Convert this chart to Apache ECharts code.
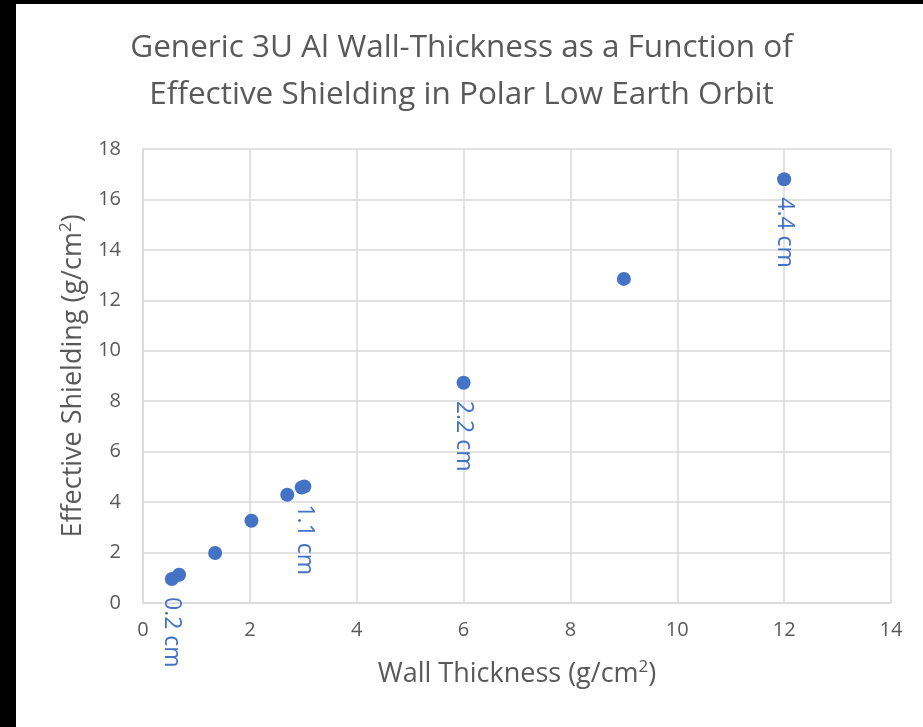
<!DOCTYPE html>
<html><head><meta charset="utf-8">
<script src="https://cdn.jsdelivr.net/npm/echarts@6/dist/echarts.min.js"></script>
<style>html,body{margin:0;padding:0;background:#fff}#c{width:923px;height:727px}</style>
</head><body><div id="c"></div>
<script>
var wallThickness = [0.54, 0.675, 1.35, 2.03, 2.7, 2.97, 3.02, 6.0, 9.0, 12.0];
var effectiveShielding = [0.95, 1.12, 1.98, 3.26, 4.29, 4.58, 4.62, 8.73, 12.85, 16.8];
var pointLabels = ['0.2 cm', '', '', '', '', '', '1.1 cm', '2.2 cm', '', '4.4 cm'];
var xTicks = [0, 2, 4, 6, 8, 10, 12, 14];
var yTicks = [0, 2, 4, 6, 8, 10, 12, 14, 16, 18];

var txt = '#595959', grid = '#D9D9D9', blue = '#4472C4';
var font = '"Open Sans", "Noto Sans", sans-serif';

var data = wallThickness.map(function (x, i) {
  return { value: [x, effectiveShielding[i]], name: pointLabels[i] };
});

var nameStyle = {
  color: txt, fontFamily: font, fontSize: 27,
  rich: {
    sup: { color: txt, fontFamily: font, fontSize: 17, verticalAlign: 'top', lineHeight: 30 }
  }
};

var chart = echarts.init(document.getElementById('c'), null, { renderer: 'canvas' });
chart.setOption({
  animation: false,
  backgroundColor: '#fff',
  title: {
    text: 'Generic 3U Al Wall-Thickness as a Function of\nEffective Shielding in Polar Low Earth Orbit',
    left: 'center', top: 25, padding: [0, 0, 0, 17],
    textStyle: { color: txt, fontFamily: font, fontSize: 31.5, fontWeight: 'normal', lineHeight: 47 }
  },
  grid: { left: 143, right: 32, top: 149, bottom: 124, containLabel: false },
  xAxis: {
    type: 'value', min: xTicks[0], max: xTicks[xTicks.length - 1], interval: 2,
    name: 'Wall Thickness (g/cm{sup|2})', nameLocation: 'middle', nameGap: 56,
    nameTextStyle: nameStyle,
    axisLine: { show: true, lineStyle: { color: grid, width: 1.5 } },
    axisTick: { show: false },
    axisLabel: { color: txt, fontFamily: font, fontSize: 20, margin: 17 },
    splitLine: { show: true, lineStyle: { color: grid, width: 1.5 } }
  },
  yAxis: {
    type: 'value', min: yTicks[0], max: yTicks[yTicks.length - 1], interval: 2,
    name: 'Effective Shielding (g/cm{sup|2})', nameLocation: 'middle', nameGap: 55,
    nameTextStyle: nameStyle,
    axisLine: { show: true, lineStyle: { color: grid, width: 1.5 } },
    axisTick: { show: false },
    axisLabel: { color: txt, fontFamily: font, fontSize: 20, margin: 22 },
    splitLine: { show: true, lineStyle: { color: grid, width: 1.5 } }
  },
  series: [{
    type: 'scatter', symbol: 'circle', symbolSize: 14,
    itemStyle: { color: blue, opacity: 1 },
    data: data,
    label: {
      show: true, position: 'bottom', distance: 11, rotate: -90,
      align: 'left', verticalAlign: 'middle',
      color: blue, fontFamily: font, fontSize: 23,
      formatter: function (p) { return p.name; }
    }
  }],
  graphic: [
    { type: 'rect', shape: { x: 0, y: 0, width: 16, height: 727 }, style: { fill: '#000' } },
    { type: 'rect', shape: { x: 0, y: 0, width: 923, height: 4 }, style: { fill: '#000' } }
  ]
});
</script></body></html>
